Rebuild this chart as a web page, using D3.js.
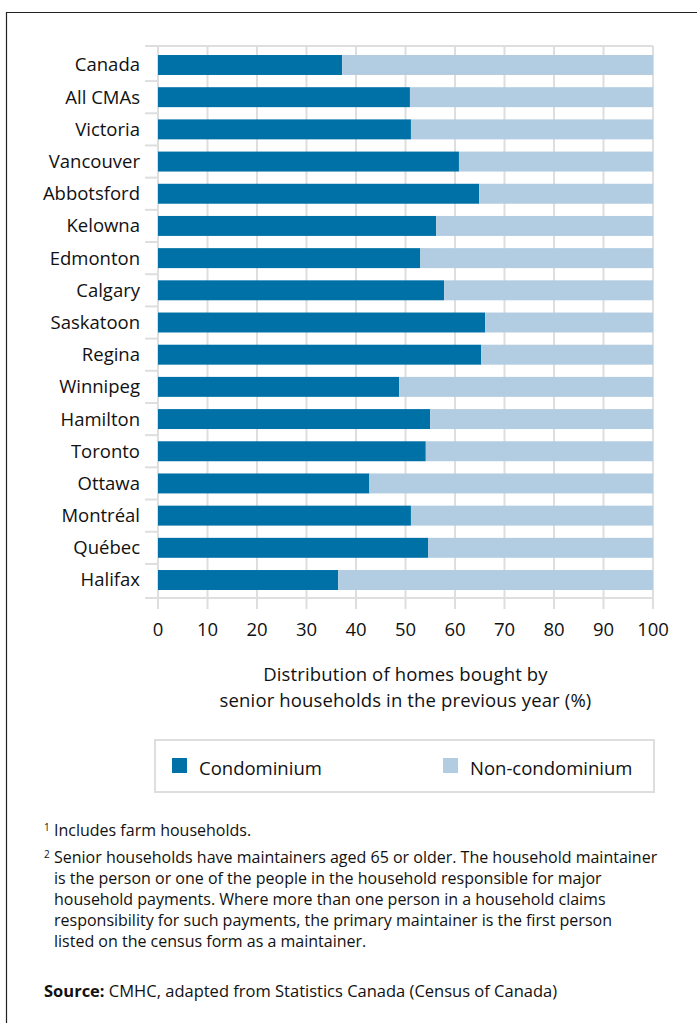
<!DOCTYPE html>
<html><head><meta charset="utf-8">
<script src="https://cdn.jsdelivr.net/npm/d3@7"></script>
<style>
body{margin:0;background:#fff;}
svg{display:block;font-family:"Open Sans", Lato, sans-serif;}
</style></head>
<body>
<svg id="chart" width="697" height="1023"></svg>
<script>
const categories = ["Canada","All CMAs","Victoria","Vancouver","Abbotsford","Kelowna","Edmonton","Calgary","Saskatoon","Regina","Winnipeg","Hamilton","Toronto","Ottawa","Montréal","Québec","Halifax"];
const condominium = [37.2,50.9,51.1,60.8,64.9,56.2,53.0,57.8,66.1,65.3,48.7,55.0,54.1,42.7,51.1,54.6,36.4];
const nonCondominium = condominium.map(v => 100 - v);
const xTicks = [0,10,20,30,40,50,60,70,80,90,100];
const seriesNames = ["Condominium","Non-condominium"];
const colors = ["#0071a7","#b2cce1"];
const axisTitle = ["Distribution of homes bought by","senior households in the previous year (%)"];
const footnotes = [
  ["1","Includes farm households."],
  ["2","Senior households have maintainers aged 65 or older. The household maintainer"],
  ["","is the person or one of the people in the household responsible for major"],
  ["","household payments. Where more than one person in a household claims"],
  ["","responsibility for such payments, the primary maintainer is the first person"],
  ["","listed on the census form as a maintainer."]
];

const svg = d3.select("#chart");
const grid = "#dedede";
const txt = "#111";
const fs = 18.5;

// outer frame
svg.append("path").attr("d","M6.5,1023 V12.5 H697").attr("fill","none").attr("stroke","#222").attr("stroke-width",1.2);

const x = d3.scaleLinear().domain([0,100]).range([158,653]);
const y = d3.scaleBand().domain(categories).range([46,599]).paddingInner(0.38).paddingOuter(0.28);

// vertical gridlines
svg.append("g").selectAll("line").data(xTicks).join("line")
  .attr("x1",d=>x(d)).attr("x2",d=>x(d)).attr("y1",46).attr("y2",609)
  .attr("stroke",grid).attr("stroke-width",2);

// band boundary ticks
const bounds = [46];
for(let i=0;i<categories.length-1;i++){
  bounds.push((y(categories[i])+y(categories[i+1]))/2 + y.bandwidth()/2);
}
svg.append("g").selectAll("line").data(bounds).join("line")
  .attr("x1",145).attr("x2",d=>d===46?653:158).attr("y1",d=>d).attr("y2",d=>d)
  .attr("stroke",grid).attr("stroke-width",2);
// bottom axis line
svg.append("line").attr("x1",145).attr("x2",654).attr("y1",598).attr("y2",598).attr("stroke",grid).attr("stroke-width",2);

// bars
const stacked = categories.map((c,i)=>({c, a:condominium[i], b:nonCondominium[i]}));
svg.append("g").selectAll("rect").data(stacked).join("rect")
  .attr("x",x(0)).attr("y",d=>y(d.c)).attr("height",y.bandwidth())
  .attr("width",d=>x(d.a)-x(0)).attr("fill",colors[0]);
svg.append("g").selectAll("rect").data(stacked).join("rect")
  .attr("x",d=>x(d.a)).attr("y",d=>y(d.c)).attr("height",y.bandwidth())
  .attr("width",d=>x(d.a+d.b)-x(d.a)).attr("fill",colors[1]);

// category labels
svg.append("g").selectAll("text").data(categories).join("text")
  .attr("x",140).attr("y",d=>y(d)+y.bandwidth()/2).attr("dy","0.35em")
  .attr("text-anchor","end").attr("font-size",fs).attr("fill",txt).text(d=>d);

// x tick labels
svg.append("g").selectAll("text").data(xTicks).join("text")
  .attr("x",d=>x(d)).attr("y",630).attr("dy","0.35em")
  .attr("text-anchor","middle").attr("font-size",fs).attr("fill",txt).text(d=>d);

// axis title
svg.append("g").selectAll("text").data(axisTitle).join("text")
  .attr("x",(x(0)+x(100))/2).attr("y",(d,i)=>681+i*25.5)
  .attr("text-anchor","middle").attr("font-size",fs).attr("letter-spacing",0.15).attr("fill",txt).text(d=>d);

// legend
svg.append("rect").attr("x",155).attr("y",740).attr("width",499).attr("height",52)
  .attr("fill","none").attr("stroke",grid).attr("stroke-width",2);
const legX = [172,443];
const leg = svg.append("g").selectAll("g").data(seriesNames).join("g");
leg.append("rect").attr("x",(d,i)=>legX[i]).attr("y",758).attr("width",15).attr("height",15).attr("fill",(d,i)=>colors[i]);
leg.append("text").attr("x",(d,i)=>legX[i]+27).attr("y",775).attr("font-size",fs).attr("fill",txt).text(d=>d);

// footnotes
const fnY = i => i === 0 ? 836 : 863 + (i-1)*21;
const fn = svg.append("g").selectAll("g").data(footnotes).join("g");
fn.append("text").attr("x",44).attr("y",(d,i)=>fnY(i) - 5).attr("font-size",10).attr("fill",txt).text(d=>d[0]);
fn.append("text").attr("x",54).attr("y",(d,i)=>fnY(i)).attr("font-size",16).attr("fill",txt).text(d=>d[1]);

const src = svg.append("text").attr("x",44).attr("y",997).attr("font-size",16.5).attr("fill",txt);
src.append("tspan").attr("font-weight","bold").text("Source:");
src.append("tspan").text(" CMHC, adapted from Statistics Canada (Census of Canada)");
</script>
</body></html>
